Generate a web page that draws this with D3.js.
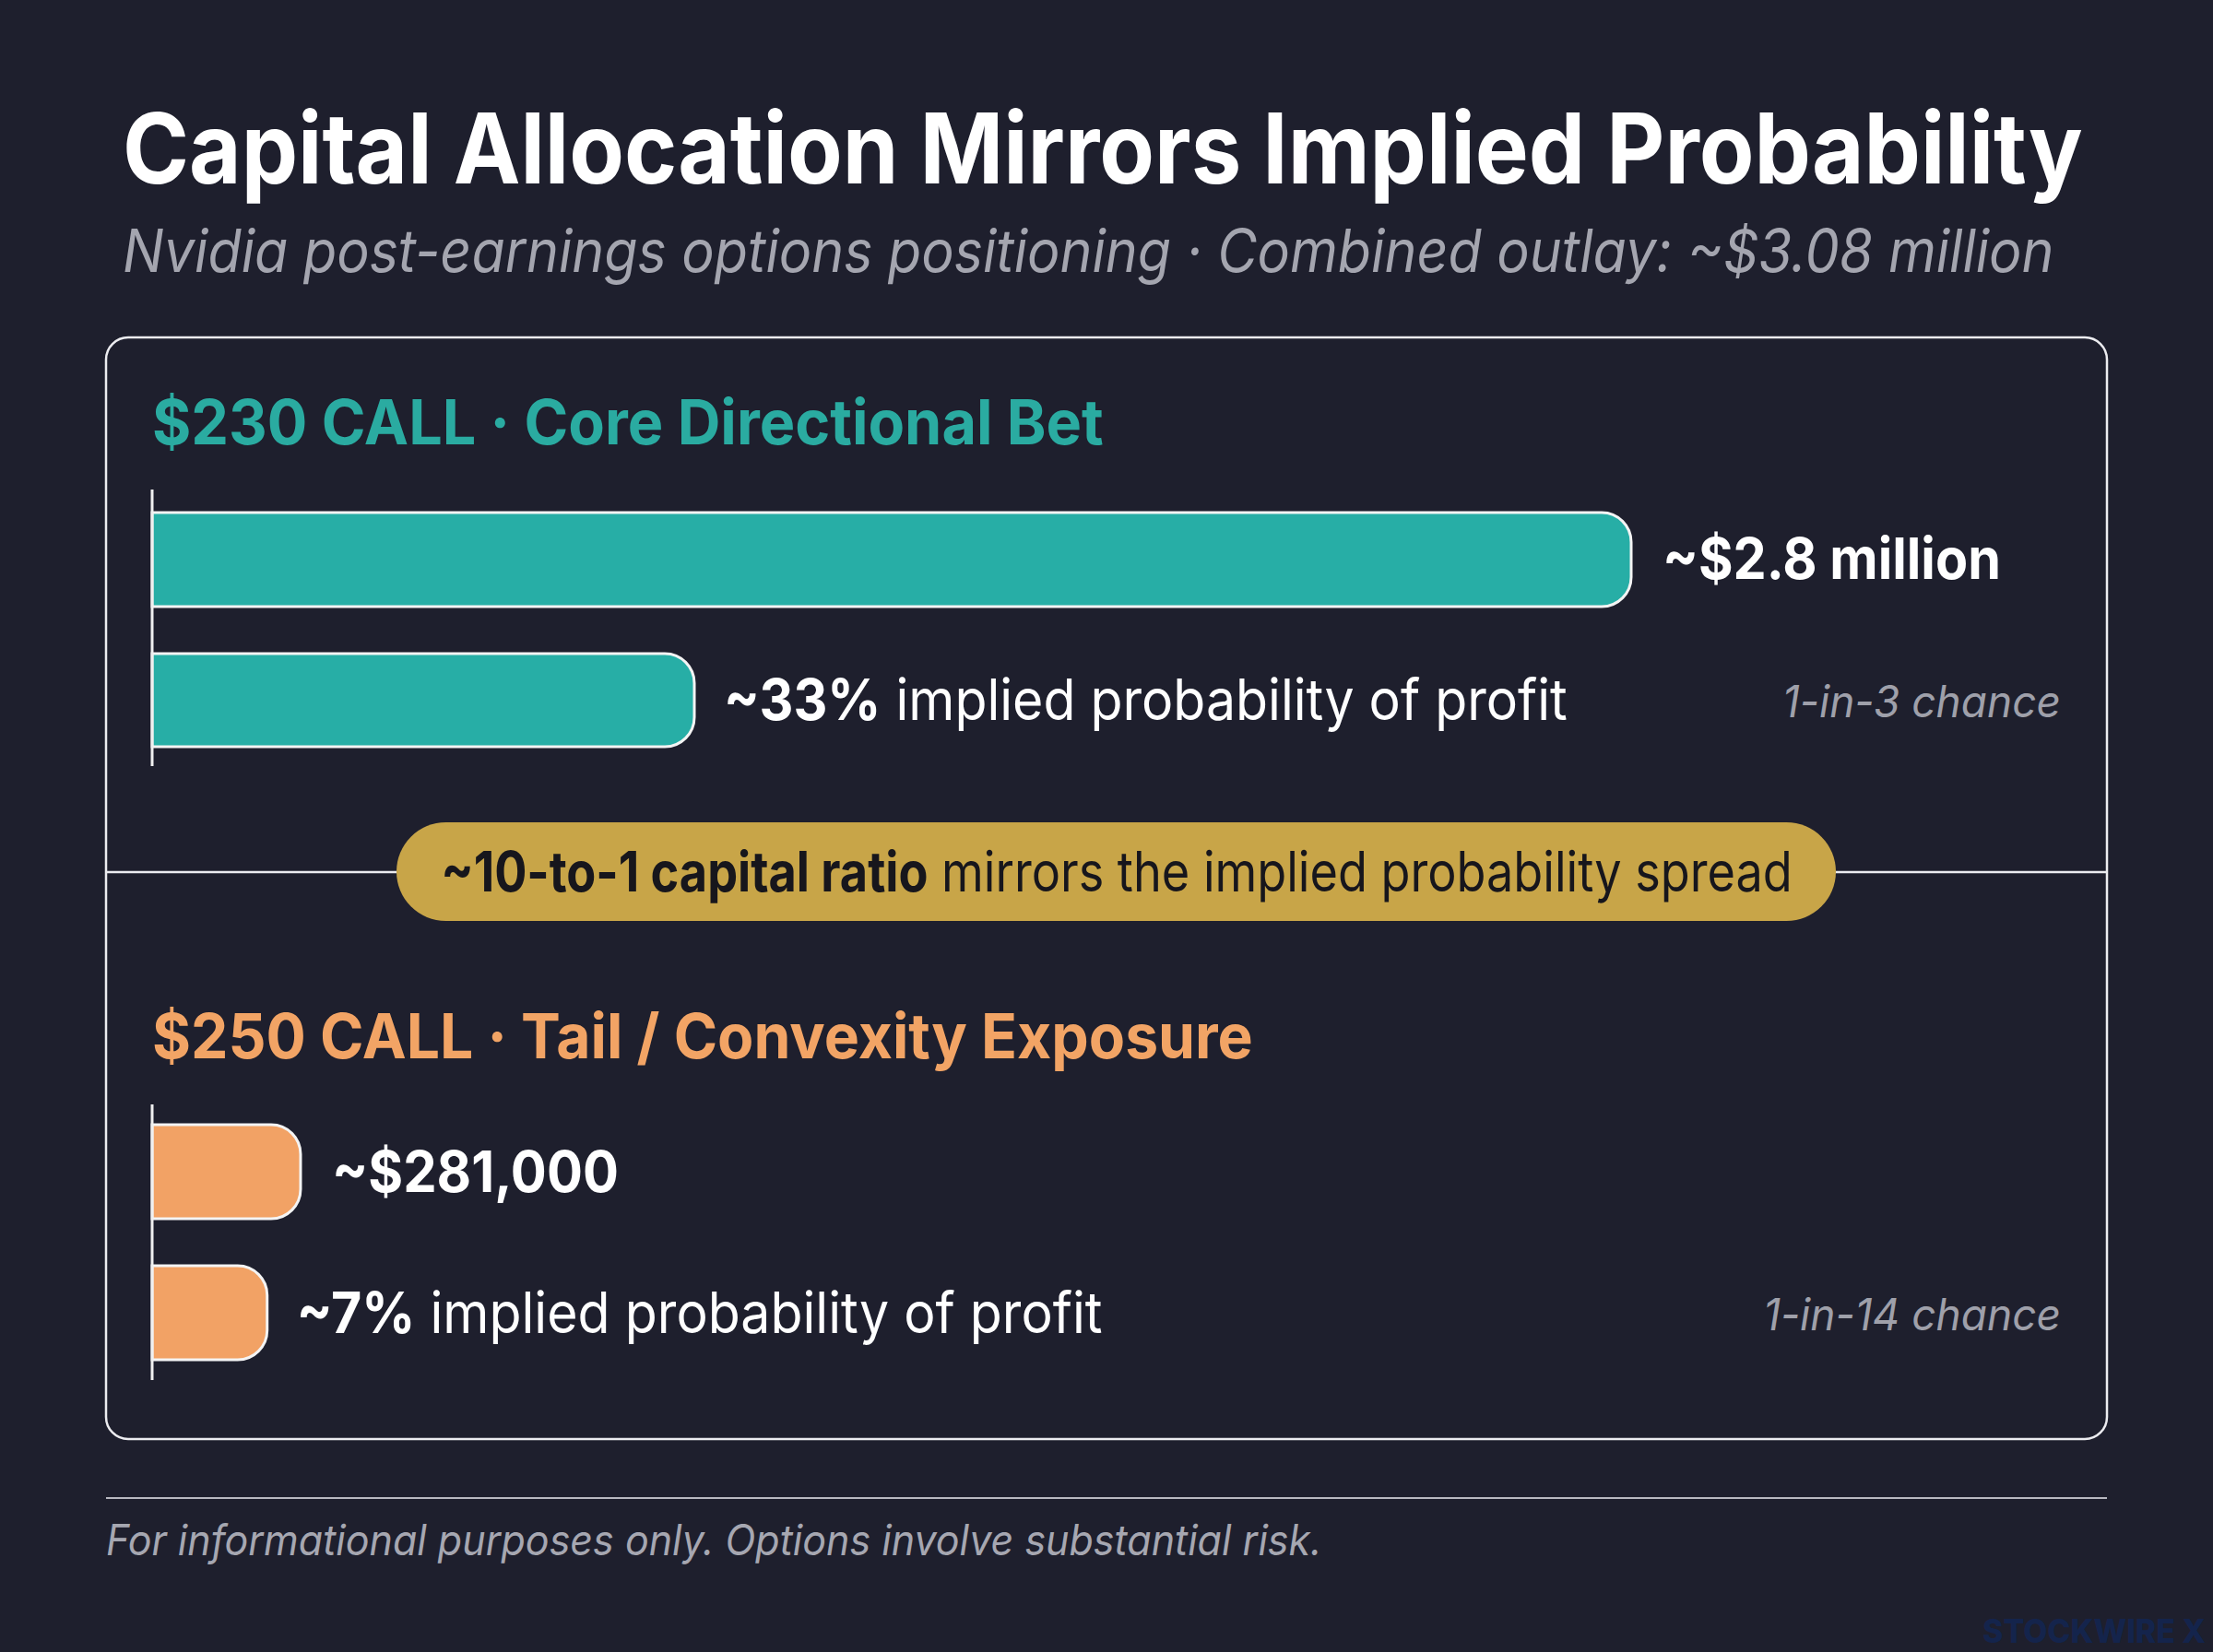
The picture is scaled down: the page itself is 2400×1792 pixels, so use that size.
<!DOCTYPE html>
<html>
<head>
<meta charset="utf-8">
<script src="https://cdn.jsdelivr.net/npm/d3@7/dist/d3.min.js"></script>
<style>
  html, body { margin: 0; padding: 0; background: #1e1f2d; }
  svg { display: block; }
</style>
</head>
<body>
<script>
// ---- data ----
const title = "Capital Allocation Mirrors Implied Probability";
const subtitle = "Nvidia post-earnings options positioning · Combined outlay: ~$3.08 million";
const sections = ["$230 CALL · Core Directional Bet", "$250 CALL · Tail / Convexity Exposure"];
const capital = [2800000, 281000];
const capitalLabels = ["~$2.8 million", "~$281,000"];
const probability = [0.33, 0.07];
const probLabels = ["~33%", "~7%"];
const probSuffix = " implied probability of profit";
const chanceLabels = ["1-in-3 chance", "1-in-14 chance"];
const ratioBold = "~10-to-1 capital ratio";
const ratioRest = " mirrors the implied probability spread";
const footer = "For informational purposes only. Options involve substantial risk.";
const watermark = "STOCKWIRE X";

// ---- styles ----
const W = 2400, H = 1792;
const BG = "#1e1f2d";
const sectionColors = ["#2aaba1", "#f2a465"];
const barColors = ["#27aea6", "#f2a265"];
const FONT = "Inter, 'Noto Sans', sans-serif";

const svg = d3.select("body").append("svg").attr("width", W).attr("height", H);
svg.append("rect").attr("width", W).attr("height", H).attr("fill", BG);

// place a text at (x, y) and squeeze it horizontally to a target width
function placeFit(sel, x, y, w) {
  sel.attr("x", 0).attr("y", 0);
  const natural = sel.node().getComputedTextLength();
  const sx = Math.min(1.15, w / natural);
  sel.attr("transform", `translate(${x},${y}) scale(${sx},1)`);
  return sel;
}

// title + subtitle
placeFit(svg.append("text")
  .attr("font-family", FONT).attr("font-weight", 700).attr("font-size", 106)
  .attr("fill", "#ffffff").text(title), 133, 199, 2126);
placeFit(svg.append("text")
  .attr("font-family", FONT).attr("font-style", "italic").attr("font-size", 64)
  .attr("fill", "#a4a5af").text(subtitle), 133, 295, 2095);

// card
svg.append("rect").attr("x", 115).attr("y", 366).attr("width", 2170).attr("height", 1195)
  .attr("rx", 24).attr("fill", "none").attr("stroke", "#ececf0").attr("stroke-width", 2.5);
svg.append("line").attr("x1", 115).attr("x2", 2285).attr("y1", 946).attr("y2", 946)
  .attr("stroke", "#ececf0").attr("stroke-width", 2.5);

// scales
const x0 = 165;
const xCap = d3.scaleLinear().domain([0, 2800000]).range([0, 1604]);
const xProb = d3.scaleLinear().domain([0, 0.33]).range([0, 588]);

const layout = [
  { titleY: 482, axis: [531, 831], capBar: [556, 658], probBar: [709, 810],
    capLabelY: 628, probLabelY: 781, titleW: 1032, capW: 367, probW: 915, chanceW: 302 },
  { titleY: 1148, axis: [1198, 1497], capBar: [1220, 1322], probBar: [1373, 1475],
    capLabelY: 1293, probLabelY: 1446, titleW: 1194, capW: 311, probW: 874, chanceW: 323 }
];

function barPath(x, y, w, h, r) {
  r = Math.min(r, w, h / 2);
  return `M${x},${y} H${x + w - r} A${r},${r} 0 0 1 ${x + w},${y + r} V${y + h - r} A${r},${r} 0 0 1 ${x + w - r},${y + h} H${x} Z`;
}

sections.forEach((s, i) => {
  const L = layout[i];
  placeFit(svg.append("text")
    .attr("font-family", FONT).attr("font-weight", 700).attr("font-size", 67)
    .attr("fill", sectionColors[i]).text(s), x0, L.titleY, L.titleW);

  // bars
  const wc = xCap(capital[i]);
  svg.append("path").attr("d", barPath(x0, L.capBar[0], wc, L.capBar[1] - L.capBar[0], 32))
    .attr("fill", barColors[i]).attr("stroke", "#f4f4f4").attr("stroke-width", 3);
  const wp = xProb(probability[i]);
  svg.append("path").attr("d", barPath(x0, L.probBar[0], wp, L.probBar[1] - L.probBar[0], 32))
    .attr("fill", barColors[i]).attr("stroke", "#f4f4f4").attr("stroke-width", 3);

  // axis
  svg.append("line").attr("x1", x0).attr("x2", x0).attr("y1", L.axis[0]).attr("y2", L.axis[1])
    .attr("stroke", "#f0f0f0").attr("stroke-width", 3);

  // labels
  placeFit(svg.append("text")
    .attr("font-family", FONT).attr("font-weight", 700).attr("font-size", 62)
    .attr("fill", "#ffffff").text(capitalLabels[i]), x0 + wc + 34, L.capLabelY, L.capW);

  const pt = svg.append("text")
    .attr("font-family", FONT).attr("font-size", 62).attr("fill", "#ffffff");
  pt.append("tspan").attr("font-weight", 700).text(probLabels[i]);
  pt.append("tspan").attr("font-weight", 400).text(probSuffix);
  placeFit(pt, x0 + wp + 32, L.probLabelY, L.probW);

  placeFit(svg.append("text").attr("text-anchor", "end")
    .attr("font-family", FONT).attr("font-style", "italic").attr("font-size", 48)
    .attr("fill", "#9fa0aa").text(chanceLabels[i]), 2235, L.probLabelY - 3, L.chanceW);
});

// ratio pill
svg.append("rect").attr("x", 430).attr("y", 892).attr("width", 1561).attr("height", 107)
  .attr("rx", 53.5).attr("fill", "#c8a548");
const rt = svg.append("text").attr("text-anchor", "middle")
  .attr("font-family", FONT).attr("font-size", 60).attr("fill", "#17161c");
rt.append("tspan").attr("font-weight", 700).text(ratioBold);
rt.append("tspan").attr("font-weight", 400).text(ratioRest);
placeFit(rt, 1211, 967, 1466);

// footer
svg.append("line").attr("x1", 115).attr("x2", 2285).attr("y1", 1625).attr("y2", 1625)
  .attr("stroke", "#b8b8c0").attr("stroke-width", 2);
placeFit(svg.append("text")
  .attr("font-family", FONT).attr("font-style", "italic").attr("font-size", 46)
  .attr("fill", "#a6a7b1").text(footer), 115, 1687, 1319);

placeFit(svg.append("text").attr("text-anchor", "end")
  .attr("font-family", FONT).attr("font-weight", 800).attr("font-size", 35)
  .attr("fill", "#14244c").text(watermark), 2392, 1782, 242);
</script>
</body>
</html>
